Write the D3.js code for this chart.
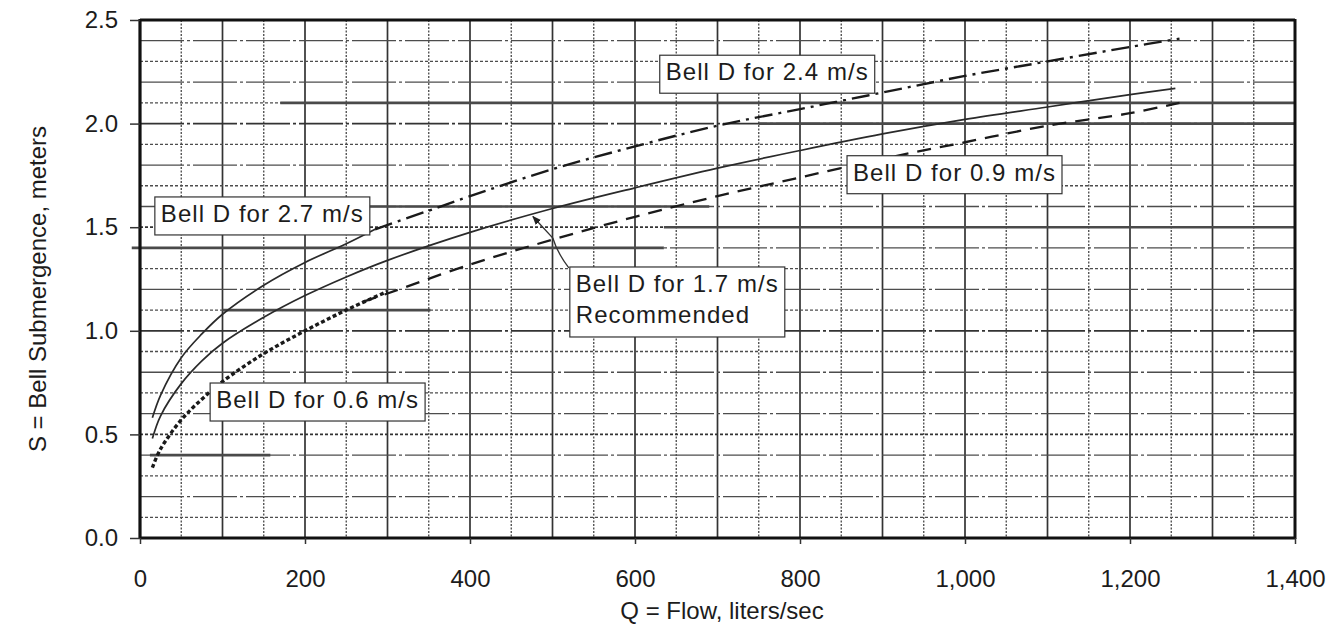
<!DOCTYPE html>
<html><head><meta charset="utf-8">
<script src="https://cdn.jsdelivr.net/npm/d3@7"></script>
<style>
html,body{margin:0;padding:0;background:#fff;}
svg{display:block;}
text{font-family:"Liberation Sans",Arial,Helvetica,sans-serif;fill:#1c1c1c;}
</style></head><body>
<svg id="chart" width="1334" height="627"></svg>
<script>
// ---------- data ----------
const xTicks = [0, 200, 400, 600, 800, 1000, 1200, 1400];
const xTickLabels = ["0", "200", "400", "600", "800", "1,000", "1,200", "1,400"];
const yTicks = [0, 0.5, 1.0, 1.5, 2.0, 2.5];
const yTickLabels = ["0.0", "0.5", "1.0", "1.5", "2.0", "2.5"];
const xTitle = "Q = Flow, liters/sec";
const yTitle = "S = Bell Submergence, meters";

// Bell D for 2.7 m/s (thin solid, left part)
const q27 = [15, 25, 50, 75, 100, 150, 200, 250, 285];
const s27 = [0.58, 0.69, 0.87, 0.985, 1.08, 1.22, 1.33, 1.42, 1.49];
// Bell D for 2.4 m/s (dash-dot)
const q24 = [285, 350, 400, 500, 600, 700, 800, 900, 1000, 1100, 1200, 1260];
const s24 = [1.49, 1.58, 1.65, 1.78, 1.89, 1.99, 2.07, 2.15, 2.23, 2.30, 2.37, 2.41];
// Bell D for 1.7 m/s, recommended (solid)
const q17 = [15, 25, 50, 75, 100, 150, 200, 250, 300, 400, 500, 600, 700, 800, 900, 1000, 1100, 1200, 1255];
const s17 = [0.48, 0.59, 0.745, 0.855, 0.94, 1.065, 1.17, 1.26, 1.34, 1.475, 1.59, 1.69, 1.785, 1.87, 1.95, 2.02, 2.08, 2.14, 2.17];
// Bell D for 0.9 m/s (dashed)
const q09 = [270, 300, 400, 500, 600, 700, 800, 900, 1000, 1100, 1200, 1260];
const s09 = [1.14, 1.18, 1.32, 1.44, 1.55, 1.65, 1.74, 1.83, 1.91, 1.99, 2.05, 2.10];
// Bell D for 0.6 m/s (heavy dotted)
const q06 = [15, 25, 50, 75, 100, 150, 200, 250, 300];
const s06 = [0.34, 0.43, 0.57, 0.67, 0.755, 0.89, 1.00, 1.10, 1.19];

// darker rulings on the graph paper: level, from Q, to Q
const ruleS  = [2.1, 2.0, 1.6, 1.5, 1.4, 1.1, 0.4];
const ruleQ0 = [170, 750, 105, 635, -10, 100, 12];
const ruleQ1 = [1400, 1400, 690, 1400, 635, 352, 158];

const annText = [
  ["Bell D for 2.7 m/s"],
  ["Bell D for 2.4 m/s"],
  ["Bell D for 0.9 m/s"],
  ["Bell D for 1.7 m/s", "Recommended"],
  ["Bell D for 0.6 m/s"]
];

// ---------- layout ----------
const svg = d3.select("#chart");
const x = d3.scaleLinear().domain([0, 1400]).range([140, 1295]);
const y = d3.scaleLinear().domain([0, 2.5]).range([538, 20]);
// annotation box anchors (top-left, in data units)
const annQ = [18, 630, 857, 521, 85];
const annS = [1.646, 2.33, 1.845, 1.308, 0.748];

// ---------- grid ----------
const grid = svg.append("g");
grid.selectAll("line.v").data(d3.range(50, 1400, 50)).join("line")
  .attr("x1", d => x(d)).attr("x2", d => x(d))
  .attr("y1", y(2.5)).attr("y2", y(0))
  .attr("stroke", d => d % 100 === 0 ? "#333" : "#474747")
  .attr("stroke-width", d => d % 100 === 0 ? 1.7 : 1.3)
  .attr("stroke-dasharray", d => d % 100 === 0 ? null : "2,1.5");
grid.selectAll("line.h").data(d3.range(1, 25)).join("line")
  .attr("x1", x(0)).attr("x2", x(1400))
  .attr("y1", d => y(d / 10)).attr("y2", d => y(d / 10))
  .attr("stroke", d => d % 5 === 0 ? "#333" : "#4d4d4d")
  .attr("stroke-width", d => d % 5 === 0 ? 1.7 : 1.3)
  .attr("stroke-dasharray", d => d % 2 === 0 ? "44,3,3,3" : "3,2");
grid.selectAll("line.r").data(ruleS).join("line")
  .attr("x1", (d, i) => x(ruleQ0[i])).attr("x2", (d, i) => x(ruleQ1[i]))
  .attr("y1", d => y(d)).attr("y2", d => y(d))
  .attr("stroke", "#4a4a4a").attr("stroke-width", 2.6);

// ---------- frame ----------
const frame = svg.append("g").attr("fill", "none").attr("stroke", "#111");
frame.append("line").attr("x1", x(0)).attr("x2", x(0)).attr("y1", y(2.5) - 1).attr("y2", y(0) + 1).attr("stroke-width", 3.2);
frame.append("line").attr("x1", x(0)).attr("x2", x(1400)).attr("y1", y(0)).attr("y2", y(0)).attr("stroke-width", 3.2);
frame.append("line").attr("x1", x(0)).attr("x2", x(1400)).attr("y1", y(2.5)).attr("y2", y(2.5)).attr("stroke-width", 3.2);
frame.append("line").attr("x1", x(1400)).attr("x2", x(1400)).attr("y1", y(2.5) - 1).attr("y2", y(0) + 1).attr("stroke-width", 3);

// ---------- axes ----------
const ax = svg.append("g").attr("transform", `translate(0,${y(0)})`)
  .call(d3.axisBottom(x).tickValues(xTicks).tickFormat((d, i) => xTickLabels[i]).tickSizeInner(6).tickSizeOuter(0).tickPadding(26));
const ay = svg.append("g").attr("transform", `translate(${x(0)},0)`)
  .call(d3.axisLeft(y).tickValues(yTicks).tickFormat((d, i) => yTickLabels[i]).tickSizeInner(10).tickSizeOuter(0).tickPadding(12));
[ax, ay].forEach(a => {
  a.select(".domain").remove();
  a.selectAll(".tick line").attr("stroke", "#333").attr("stroke-width", 1.5);
  a.selectAll(".tick text").attr("font-size", 24).attr("fill", "#1c1c1c")
    .attr("font-family", "'Liberation Sans', Arial, sans-serif");
});

svg.append("text").attr("x", 722).attr("y", 619).attr("text-anchor", "middle")
  .attr("font-size", 24).text(xTitle);
svg.append("text").attr("transform", `translate(46,${(y(0) + y(2.5)) / 2 + 10}) rotate(-90)`)
  .attr("text-anchor", "middle").attr("font-size", 24).text(yTitle);

// ---------- curves ----------
const line = d3.line().x(d => x(d[0])).y(d => y(d[1])).curve(d3.curveCatmullRom.alpha(0.5));
const series = [
  {q: q27, s: s27, w: 1.7, dash: null, c: "#2a2a2a"},
  {q: q24, s: s24, w: 2.4, dash: "18,6,3,6", c: "#1a1a1a"},
  {q: q17, s: s17, w: 1.7, dash: null, c: "#2a2a2a"},
  {q: q09, s: s09, w: 2.3, dash: "14,9", c: "#1a1a1a"},
  {q: q06, s: s06, w: 3.4, dash: "4,2.5", c: "#1a1a1a"}
];
const cg = svg.append("g").attr("fill", "none");
series.forEach(sr => {
  cg.append("path").datum(sr.q.map((q, i) => [q, sr.s[i]]))
    .attr("d", line).attr("stroke", sr.c).attr("stroke-width", sr.w)
    .attr("stroke-dasharray", sr.dash);
});

// ---------- annotations ----------
svg.append("defs").append("marker").attr("id", "ah")
  .attr("viewBox", "0 0 10 10").attr("refX", 9).attr("refY", 5)
  .attr("markerWidth", 9).attr("markerHeight", 9).attr("orient", "auto-start-reverse")
  .attr("markerUnits", "userSpaceOnUse")
  .append("path").attr("d", "M0,1 L10,5 L0,9 z").attr("fill", "#222");

const ag = svg.append("g");
annText.forEach((lines, i) => {
  const gx = x(annQ[i]), gy = y(annS[i]);
  const g = ag.append("g");
  const rect = g.append("rect").attr("fill", "#fff").attr("stroke", "#333").attr("stroke-width", 1.2);
  let maxW = 0;
  lines.forEach((t, j) => {
    const te = g.append("text").attr("x", gx + 6).attr("y", gy + 25 + j * 31)
      .attr("font-size", 24).attr("letter-spacing", 1.05).text(t);
    maxW = Math.max(maxW, te.node().getComputedTextLength());
  });
  rect.attr("x", gx).attr("y", gy).attr("width", maxW + 12).attr("height", 38 + (lines.length - 1) * 32);
});

// arrow from 1.7 box to its curve
const s17at = d3.scaleLinear().domain(q17).range(s17);
const tipQ = 475, tx = x(tipQ), ty = y(s17at(tipQ));
const bx = x(annQ[3]) - 1, by = y(annS[3]) + 1;
ag.append("path")
  .attr("d", `M${bx},${by} Q${bx - 12},${by - 16} ${bx - 16},${by - 30} L${tx + 1},${ty + 2}`)
  .attr("fill", "none").attr("stroke", "#333").attr("stroke-width", 1.3)
  .attr("marker-end", "url(#ah)");
</script>
</body></html>
